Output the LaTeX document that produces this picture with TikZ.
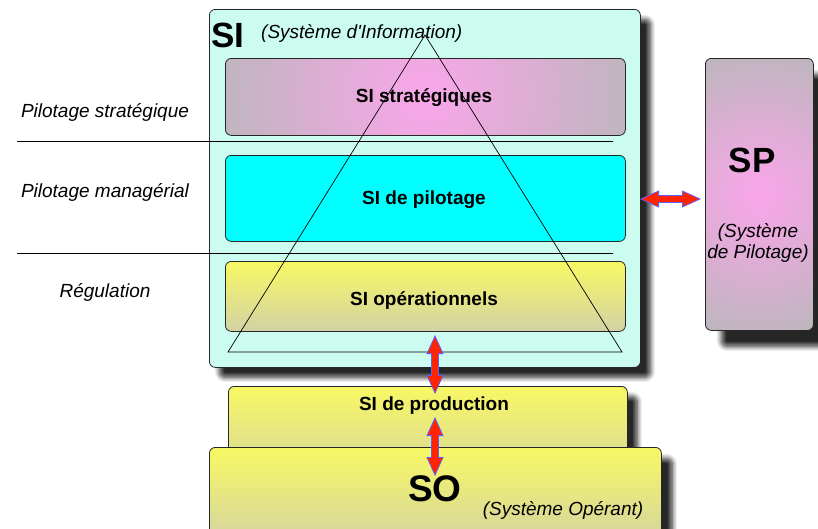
\documentclass[tikz,border=0pt]{standalone}
\usepackage{fontspec}
\setmainfont{Liberation Sans}
\usetikzlibrary{shadows.blur,arrows.meta}
\definecolor{sibg}{RGB}{204,252,240}
\definecolor{pinkc}{RGB}{250,166,234}
\definecolor{pinko}{RGB}{188,182,188}
\definecolor{cyanbox}{RGB}{0,255,255}
\definecolor{yeltop}{RGB}{248,248,100}
\definecolor{yelbot}{RGB}{210,210,165}
\definecolor{arrowred}{RGB}{255,35,0}
\definecolor{arrowblue}{RGB}{95,95,255}
\tikzset{
  box/.style={draw=black!85, line width=0.8pt, rounded corners=6pt, anchor=north west, inner sep=0pt},
  pinkbox/.style={box, fill=pinko, path picture={\shade[inner color=pinkc, outer color=pinko] (path picture bounding box.center) circle (#1);}},
  yelbox/.style={box, top color=yeltop, bottom color=yelbot},
  shad/.style={blur shadow={shadow xshift=#1, shadow yshift=-#1, shadow blur steps=8, shadow opacity=85, shadow blur radius=5pt}},
  btxt/.style={font=\bfseries\fontsize{19}{22}\selectfont, inner sep=0pt, anchor=base},
  itxt/.style={font=\itshape\fontsize{19}{22}\selectfont, inner sep=0pt, anchor=base},
  bigtxt/.style={font=\bfseries\fontsize{35}{40}\selectfont, inner sep=0pt, anchor=base},
  sepline/.style={draw=black, line width=0.8pt},
  tri/.style={draw=black, line width=0.7pt},
  dblarrow/.style={draw=arrowblue, line width=7.5pt,
    {Triangle[length=19pt,width=17pt,fill=arrowred,line width=0.8pt]}-{Triangle[length=19pt,width=17pt,fill=arrowred,line width=0.8pt]},
    postaction={draw=arrowred, line width=5.8pt, shorten >=17pt, shorten <=17pt, -}},
}
\begin{document}
\begin{tikzpicture}[x=1pt,y=-1pt]
\useasboundingbox (0,0) rectangle (818,528);

% SP box
\node[pinkbox=150pt, shad=16pt, minimum width=108pt, minimum height=272pt] (SP) at (705,58) {};
\node[bigtxt] (SPlab) at (752,172) {SP};
\node[itxt] (SPsub1) at (758,237) {(Système};
\node[itxt] (SPsub2) at (758,258) {de Pilotage)};

% SI big box
\node[box, fill=sibg, shad=10pt, minimum width=431pt, minimum height=358pt] (SI) at (209,9) {};

% separating lines
\coordinate (l1a) at (17,141); \coordinate (l1b) at (613,141);
\coordinate (l2a) at (17,253); \coordinate (l2b) at (613,253);
\draw[sepline] (l1a) -- (l1b);
\draw[sepline] (l2a) -- (l2b);

% inner boxes
\node[pinkbox=215pt, minimum width=400pt, minimum height=77pt] (strat) at (225,58) {};
\node[box, fill=cyanbox, minimum width=400pt, minimum height=86pt] (pilot) at (225,155) {};
\node[yelbox, minimum width=400pt, minimum height=70pt] (oper) at (225,261) {};

\node[btxt] (stratlab) at (424,102) {SI stratégiques};
\node[btxt] (pilotlab) at (424,204) {SI de pilotage};
\node[btxt] (operlab) at (424,305) {SI opérationnels};

% triangle
\coordinate (apex) at (425,35);
\coordinate (bl) at (228,352);
\coordinate (br) at (622,352);
\draw[tri] (apex) -- (bl) -- (br) -- cycle;

% SI titles
\node[bigtxt, anchor=base west] (SIlab) at (211,47) {SI};
\node[itxt, anchor=base west] (SIsub) at (261,38) {(Système d\textquotesingle Information)};

% left labels
\node[itxt] (ps) at (105,117) {Pilotage stratégique};
\node[itxt] (pm) at (105,197) {Pilotage managérial};
\node[itxt] (reg) at (105,297) {Régulation};

% SI de production and SO
\node[yelbox, shad=10pt, minimum width=399pt, minimum height=100pt] (prod) at (228,386) {};
\node[btxt] (prodlab) at (434,410) {SI de production};
\node[yelbox, shad=11pt, minimum width=452pt, minimum height=100pt] (SO) at (209,447) {};
\node[bigtxt, font=\bfseries\fontsize{37}{42}\selectfont] (SOlab) at (435,501) {SO};
\node[itxt] (SOsub) at (563,515) {(Système Opérant)};

% arrows
\coordinate (h1) at (640,199); \coordinate (h2) at (701,199);
\coordinate (v1a) at (435,335); \coordinate (v1b) at (435,394);
\coordinate (v2a) at (435,417); \coordinate (v2b) at (435,476);
\draw[dblarrow] (h1) -- (h2);
\draw[dblarrow] (v1a) -- (v1b);
\draw[dblarrow] (v2a) -- (v2b);
\end{tikzpicture}
\end{document}
